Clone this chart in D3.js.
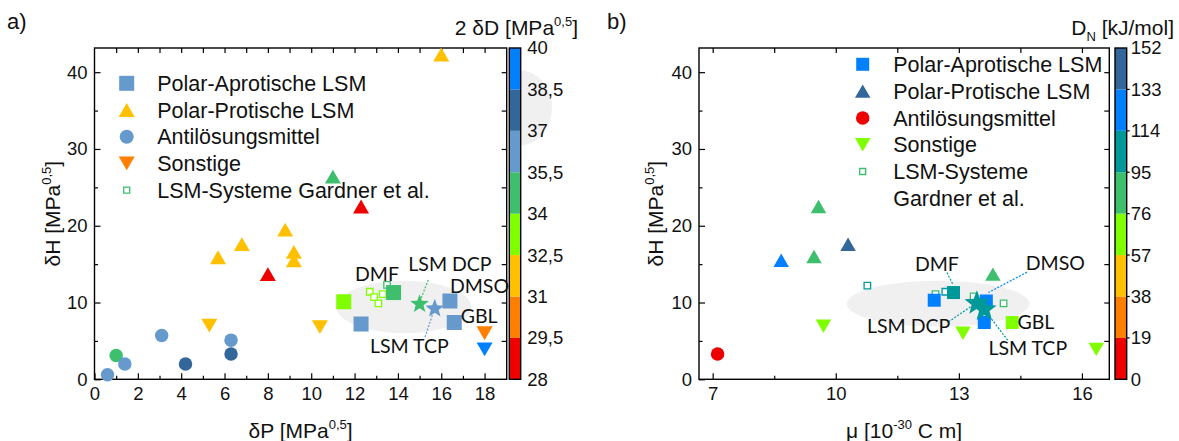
<!DOCTYPE html>
<html>
<head>
<meta charset="utf-8">
<script src="https://cdn.jsdelivr.net/npm/d3@7"></script>
<style>
  html, body { margin: 0; padding: 0; background: #fff; }
  svg { display: block; font-family: "Liberation Sans", Arial, sans-serif; }
</style>
</head>
<body>
<svg id="chart" width="1179" height="441"></svg>
<script>
// ---------- data: panel a) δP vs δH, colour = 2 δD ----------
const aAprotic   = [[11.5, 10.1, 33.0], [12.3, 7.2, 36.0], [13.8, 11.3, 34.8], [16.4, 10.2, 36.8], [16.6, 7.4, 36.0]];
const aProtic    = [[5.7, 15.9, 31.5], [6.8, 17.6, 31.5], [8.8, 19.5, 31.2], [9.2, 16.6, 31.3], [9.2, 15.5, 31.2],
                    [8.0, 13.7, 29.0], [12.3, 22.5, 29.3], [11.0, 26.4, 34.4], [16.0, 42.3, 31.1]];
const aAnti      = [[0.6, 0.6, 36.2], [1.0, 3.1, 34.5], [1.4, 2.0, 36.0], [3.1, 5.7, 36.0], [4.2, 2.0, 38.0], [6.3, 5.1, 35.8], [6.3, 3.3, 37.6]];
const aOther     = [[5.3, 7.0, 31.5], [10.4, 6.8, 31.5], [18.0, 6.0, 30.0], [18.0, 3.9, 39.4]];
const aGardner   = [[12.7, 11.4, 33.0], [12.9, 10.7, 33.0], [13.3, 11.1, 33.0], [13.1, 9.9, 33.0], [13.5, 12.3, 34.6]];
const aSystems   = [[15.0, 9.8, 34.6], [15.7, 9.2, 36.2]];   // LSM DCP, LSM TCP
const aRegion    = { cx: 14.28, cy: 9.41, rx: 3.11, ry: 3.42 };
const aXTicks    = [0, 2, 4, 6, 8, 10, 12, 14, 16, 18];
const aYTicks    = [0, 10, 20, 30, 40];
const aCbValues  = [28, 29.5, 31, 32.5, 34, 35.5, 37, 38.5, 40];
const aCbLabels  = ["28", "29,5", "31", "32,5", "34", "35,5", "37", "38,5", "40"];
// label text, label anchor (x, y), optional leader from -> to (data units)
const aNotes = [
  { t: "DMF",     x: 12.02, y: 12.8 },
  { t: "LSM DCP", x: 14.48, y: 14.05, line: [15.4, 12.95, 15.05, 10.4], c: "#3dbf6e" },
  { t: "DMSO",    x: 16.4,  y: 11.2 },
  { t: "GBL",     x: 16.9,  y: 7.37 },
  { t: "LSM TCP", x: 12.71, y: 3.46, line: [15.25, 5.5, 15.62, 8.6], c: "#6699cc" }
];

// ---------- data: panel b) μ vs δH, colour = DN ----------
const bAprotic   = [[12.4, 10.3, 120], [12.87, 11.3, 111], [13.67, 10.2, 124.7], [13.62, 7.4, 120], [14.3, 7.4, 75.3]];
const bProtic    = [[8.67, 15.5, 125], [9.47, 16.0, 80], [9.58, 22.5, 79], [10.3, 17.6, 140], [13.83, 13.7, 85]];
const bAnti      = [[7.12, 3.3, 4]];
const bOther     = [[9.7, 6.9, 60], [13.1, 6.0, 62], [16.35, 3.9, 70]];
const bGardner   = [[10.77, 12.2, 100], [12.43, 11.1, 85], [12.67, 11.4, 100], [13.36, 10.8, 85], [14.09, 9.9, 85]];
const bSystems   = [[13.44, 9.9, 105], [13.62, 9.1, 105]];
const bRegion    = { cx: 12.495, cy: 9.84, rx: 2.227, ry: 3.0 };
const bXTicks    = [7, 10, 13, 16];
const bYTicks    = [0, 10, 20, 30, 40];
const bCbValues  = [0, 19, 38, 57, 76, 95, 114, 133, 152];
const bCbLabels  = ["0", "19", "38", "57", "76", "95", "114", "133", "152"];
const bNotes = [
  { t: "DMF",     x: 11.93, y: 14.14, line: [12.71, 13.9, 12.86, 12.3], c: "#00999a" },
  { t: "DMSO",    x: 14.63, y: 14.23, line: [14.66, 13.95, 13.72, 11.3], c: "#0080ff" },
  { t: "LSM DCP", x: 12.79, y: 6.0, anchor: "end", line: [12.75, 7.5, 13.4, 9.85], c: "#00999a" },
  { t: "GBL",     x: 14.43, y: 6.55 },
  { t: "LSM TCP", x: 13.72, y: 3.16, line: [14.19, 5.1, 13.66, 8.8], c: "#00999a" }
];

const legendA = ["Polar-Aprotische LSM", "Polar-Protische LSM", "Antilösungsmittel", "Sonstige", "LSM-Systeme Gardner et al."];
const legendB = ["Polar-Aprotische LSM", "Polar-Protische LSM", "Antilösungsmittel", "Sonstige", "LSM-Systeme", "Gardner et al."];

// ---------- palettes ----------
const C = { red: "#ee0000", orange: "#ff7f00", yellow: "#ffc000", lime: "#80ff00", green: "#3dbf6e",
            lblue: "#6699cc", dblue: "#336699", blue: "#0080ff", teal: "#00999a" };
const aColors = [C.red, C.orange, C.yellow, C.lime, C.green, C.lblue, C.dblue, C.blue];
const bColors = [C.red, C.orange, C.yellow, C.lime, C.green, C.teal, C.blue, C.dblue];
const aColor = d3.scaleThreshold().domain(aCbValues.slice(1, -1)).range(aColors);
const bColor = d3.scaleThreshold().domain(bCbValues.slice(1, -1)).range(bColors);

// ---------- marker paths (centered on 0,0) ----------
const shapes = {
  square: s => `M${-s/2},${-s/2}h${s}v${s}h${-s}Z`,
  triUp: w => { const h = w * 0.866; return `M${-w/2},${h/2}L${w/2},${h/2}L0,${-h/2}Z`; },
  triDown: w => { const h = w * 0.866; return `M${-w/2},${-h/2}L${w/2},${-h/2}L0,${h/2}Z`; },
  circle: d => { const r = d / 2; return `M${-r},0A${r},${r} 0 1,0 ${r},0A${r},${r} 0 1,0 ${-r},0Z`; },
  star: R => { const pts = []; for (let i = 0; i < 10; i++) { const r = i % 2 ? R * 0.42 : R; const a = -Math.PI/2 + i * Math.PI / 5; pts.push([r*Math.cos(a), r*Math.sin(a)]); } return "M" + pts.map(p => p.join(",")).join("L") + "Z"; }
};

const svg = d3.select("#chart");
const labelFont = "Lato, 'Open Sans', sans-serif";

function richText(sel, parts, size) {
  parts.forEach(([s, kind]) => {
    const t = sel.append("tspan").text(s);
    if (kind === "sup") t.attr("font-size", size * 0.62).attr("dy", -size * 0.45);
    else if (kind === "sub") t.attr("font-size", size * 0.62).attr("dy", size * 0.3);
    else if (kind === "back") t.attr("dy", size * 0.45);
    else if (kind === "backsub") t.attr("dy", -size * 0.3);
  });
}

function panel(cfg) {
  const g = svg.append("g");
  const x = d3.scaleLinear().domain(cfg.xDomain).range([cfg.left, cfg.right]);
  const y = d3.scaleLinear().domain([0, 43.15]).range([cfg.bottom, cfg.top]);

  // grey region
  g.append("ellipse")
    .attr("cx", x(cfg.region.cx)).attr("cy", y(cfg.region.cy))
    .attr("rx", x(cfg.region.cx + cfg.region.rx) - x(cfg.region.cx))
    .attr("ry", y(cfg.region.cy) - y(cfg.region.cy + cfg.region.ry))
    .attr("fill", "#f0f0f0");

  // axes
  const axG = g.append("g").attr("font-size", 18.5).attr("font-family", "'Liberation Sans', Arial, sans-serif");
  const styleAxis = s => { s.select(".domain").remove(); s.selectAll("line").attr("stroke", "#000").attr("stroke-width", 1.2); s.selectAll("text").attr("fill", "#111").attr("font-size", 18.5).attr("font-family", null); };
  axG.append("g").attr("transform", `translate(0,${cfg.bottom})`)
    .call(d3.axisBottom(x).tickValues(cfg.xTicks).tickSize(-6).tickPadding(8).tickFormat(d3.format("d"))).call(styleAxis);
  axG.append("g").attr("transform", `translate(0,${cfg.bottom})`)
    .call(d3.axisBottom(x).tickValues(cfg.xMinor).tickSize(-3.5).tickFormat("")).call(styleAxis);
  axG.append("g").attr("transform", `translate(0,${cfg.top})`)
    .call(d3.axisTop(x).tickValues(cfg.xTop).tickSize(-5).tickFormat("")).call(styleAxis);
  axG.append("g").attr("transform", `translate(${cfg.left},0)`)
    .call(d3.axisLeft(y).tickValues(cfg.yTicks).tickSize(-6).tickPadding(7).tickFormat(d3.format("d"))).call(styleAxis);
  axG.append("g").attr("transform", `translate(${cfg.left},0)`)
    .call(d3.axisLeft(y).tickValues([5, 15, 25, 35]).tickSize(-3.5).tickFormat("")).call(styleAxis);
  axG.append("g").attr("transform", `translate(${cfg.right},0)`)
    .call(d3.axisRight(y).tickValues([5, 10, 15, 20, 25, 30, 35, 40]).tickSize(-5).tickFormat("")).call(styleAxis);
  g.append("rect").attr("x", cfg.left).attr("y", cfg.top)
    .attr("width", cfg.right - cfg.left).attr("height", cfg.bottom - cfg.top)
    .attr("fill", "none").attr("stroke", "#000").attr("stroke-width", 1.4);

  // marks
  const S = cfg.sizes;
  const drawSet = (data, shape, size, open) => {
    g.append("g").selectAll("path").data(data).join("path")
      .attr("transform", d => `translate(${x(d[0])},${y(d[1])})`)
      .attr("d", shapes[shape](size))
      .attr("fill", d => open ? "#fff" : cfg.color(d[2]))
      .attr("stroke", d => open ? cfg.color(d[2]) : "none")
      .attr("stroke-width", open ? 1.3 : 0);
  };
  drawSet(cfg.anti, "circle", S.circle);
  drawSet(cfg.other, "triDown", S.tri);
  drawSet(cfg.protic, "triUp", S.tri);
  drawSet(cfg.gardner, "square", S.open, true);
  drawSet(cfg.aprotic, "square", S.square);
  drawSet(cfg.systems, "star", S.star);

  // annotations
  cfg.notes.forEach(n => {
    if (n.line) {
      g.append("line")
        .attr("x1", x(n.line[0])).attr("y1", y(n.line[1]))
        .attr("x2", x(n.line[2])).attr("y2", y(n.line[3]))
        .attr("stroke", n.c).attr("stroke-width", 1.2).attr("stroke-dasharray", "2,1.5");
    }
    g.append("text").attr("x", x(n.x)).attr("y", y(n.y))
      .attr("text-anchor", n.anchor || "start")
      .attr("font-family", labelFont).attr("font-size", 19.5).attr("fill", "#111")
      .text(n.t);
  });

  // legend
  const lg = g.append("g").attr("font-size", 21.5).attr("fill", "#111");
  cfg.legend.forEach((it, i) => {
    const ly = cfg.legendY + i * cfg.legendStep;
    if (it.shape) {
      lg.append("path").attr("transform", `translate(${cfg.legendX},${ly})`)
        .attr("d", shapes[it.shape](it.size))
        .attr("fill", it.open ? "#fff" : it.color)
        .attr("stroke", it.open ? it.color : "none").attr("stroke-width", it.open ? 1.3 : 0);
    }
    lg.append("text").attr("x", cfg.legendX + 30.5).attr("y", ly).attr("dy", "0.36em").text(it.label);
  });

  // colour bar
  const cb = g.append("g");
  const cy = d3.scaleLinear().domain([cfg.cbValues[0], cfg.cbValues[cfg.cbValues.length - 1]]).range([cfg.bottom, cfg.top]);
  cb.selectAll("rect.band").data(d3.range(cfg.cbValues.length - 1)).join("rect")
    .attr("x", cfg.cbX).attr("width", cfg.cbW)
    .attr("y", i => cy(cfg.cbValues[i + 1])).attr("height", i => cy(cfg.cbValues[i]) - cy(cfg.cbValues[i + 1]))
    .attr("fill", i => cfg.cbColors[i]);
  cb.append("rect").attr("x", cfg.cbX).attr("y", cfg.top).attr("width", cfg.cbW).attr("height", cfg.bottom - cfg.top)
    .attr("fill", "none").attr("stroke", "#000").attr("stroke-width", 1.4);
  if (cfg.cbTicks) {
    cb.selectAll("line.t").data(cfg.cbValues.slice(1, -1)).join("line")
      .attr("x1", cfg.cbX + cfg.cbW).attr("x2", cfg.cbX + cfg.cbW + 3)
      .attr("y1", d => cy(d)).attr("y2", d => cy(d)).attr("stroke", "#000").attr("stroke-width", 1.2);
  }
  cb.selectAll("text").data(cfg.cbValues).join("text")
    .attr("x", cfg.cbX + cfg.cbW + cfg.cbGap).attr("y", d => cy(d)).attr("dy", "0.35em")
    .attr("font-size", 18.5).attr("fill", "#111")
    .text((d, i) => cfg.cbLabels[i]);
  const ct = g.append("text").attr("x", cfg.cbTitleX).attr("y", 35).attr("text-anchor", "end")
    .attr("font-size", 21).attr("fill", "#111");
  richText(ct, cfg.cbTitle, 21);

  // axis titles
  const xt = g.append("text").attr("x", (cfg.left + cfg.right) / 2).attr("y", 438)
    .attr("text-anchor", "middle").attr("font-size", 21).attr("fill", "#111");
  richText(xt, cfg.xTitle, 21);
  const yt = g.append("text").attr("transform", `translate(${cfg.yTitleX},${(cfg.top + cfg.bottom) / 2}) rotate(-90)`)
    .attr("text-anchor", "middle").attr("font-size", 21).attr("fill", "#111");
  richText(yt, [["δH [MPa", null], ["0,5", "sup"], ["]", "back"]], 21);

  // panel letter
  g.append("text").attr("x", cfg.letterX).attr("y", 29).attr("font-size", 22).attr("fill", "#111").text(cfg.letter);
  return { x, y, g };
}

// soft grey blob beside the first colour bar
svg.append("defs").append("clipPath").attr("id", "cbClip")
  .append("rect").attr("x", 509).attr("y", 0).attr("width", 100).attr("height", 441);
svg.append("ellipse").attr("cx", 519).attr("cy", 108).attr("rx", 33).attr("ry", 38)
  .attr("fill", "#f0f0f0").attr("clip-path", "url(#cbClip)");

panel({
  letter: "a)", letterX: 7,
  left: 94.5, right: 506.7, top: 48, bottom: 379.3,
  xDomain: [0, 19.02], xTicks: aXTicks, xMinor: d3.range(1, 19, 2), xTop: d3.range(1, 19, 1),
  yTicks: aYTicks, region: aRegion, color: aColor,
  aprotic: aAprotic, protic: aProtic, anti: aAnti, other: aOther, gardner: aGardner, systems: aSystems,
  sizes: { square: 15, tri: 16, circle: 13.5, open: 6.5, star: 9.8 },
  notes: aNotes,
  legendX: 126.7, legendY: 83.3, legendStep: 26.7,
  legend: [
    { label: legendA[0], shape: "square", size: 15, color: C.lblue },
    { label: legendA[1], shape: "triUp", size: 16, color: C.yellow },
    { label: legendA[2], shape: "circle", size: 14, color: C.lblue },
    { label: legendA[3], shape: "triDown", size: 16, color: C.orange },
    { label: legendA[4], shape: "square", size: 6, color: C.green, open: true }
  ],
  cbValues: aCbValues, cbLabels: aCbLabels, cbColors: aColors, cbX: 509.3, cbW: 11.4, cbGap: 6.5, cbTicks: false,
  cbTitleX: 578, cbTitle: [["2 δD [MPa", null], ["0,5", "sup"], ["]", "back"]],
  xTitle: [["δP [MPa", null], ["0,5", "sup"], ["]", "back"]], yTitleX: 60
});

panel({
  letter: "b)", letterX: 607,
  left: 699, right: 1109.3, top: 48, bottom: 379.3,
  xDomain: [6.667, 16.667], xTicks: bXTicks, xMinor: [8.5, 11.5, 14.5], xTop: [7, 8.5, 10, 11.5, 13, 14.5, 16],
  yTicks: bYTicks, region: bRegion, color: bColor,
  aprotic: bAprotic, protic: bProtic, anti: bAnti, other: bOther, gardner: bGardner, systems: bSystems,
  sizes: { square: 13, tri: 15.5, circle: 13.5, open: 6.5, star: 13 },
  notes: bNotes,
  legendX: 862.7, legendY: 64.3, legendStep: 26.8,
  legend: [
    { label: legendB[0], shape: "square", size: 13, color: C.blue },
    { label: legendB[1], shape: "triUp", size: 15.5, color: C.dblue },
    { label: legendB[2], shape: "circle", size: 13.5, color: C.red },
    { label: legendB[3], shape: "triDown", size: 15.5, color: C.lime },
    { label: legendB[4], shape: "square", size: 6, color: C.green, open: true },
    { label: legendB[5] }
  ],
  cbValues: bCbValues, cbLabels: bCbLabels, cbColors: bColors, cbX: 1115, cbW: 11.7, cbGap: 4, cbTicks: true,
  cbTitleX: 1174, cbTitle: [["D", null], ["N", "sub"], [" [kJ/mol]", "backsub"]],
  xTitle: [["μ [10", null], ["-30", "sup"], [" C m]", "back"]], yTitleX: 663
});
</script>
</body>
</html>
